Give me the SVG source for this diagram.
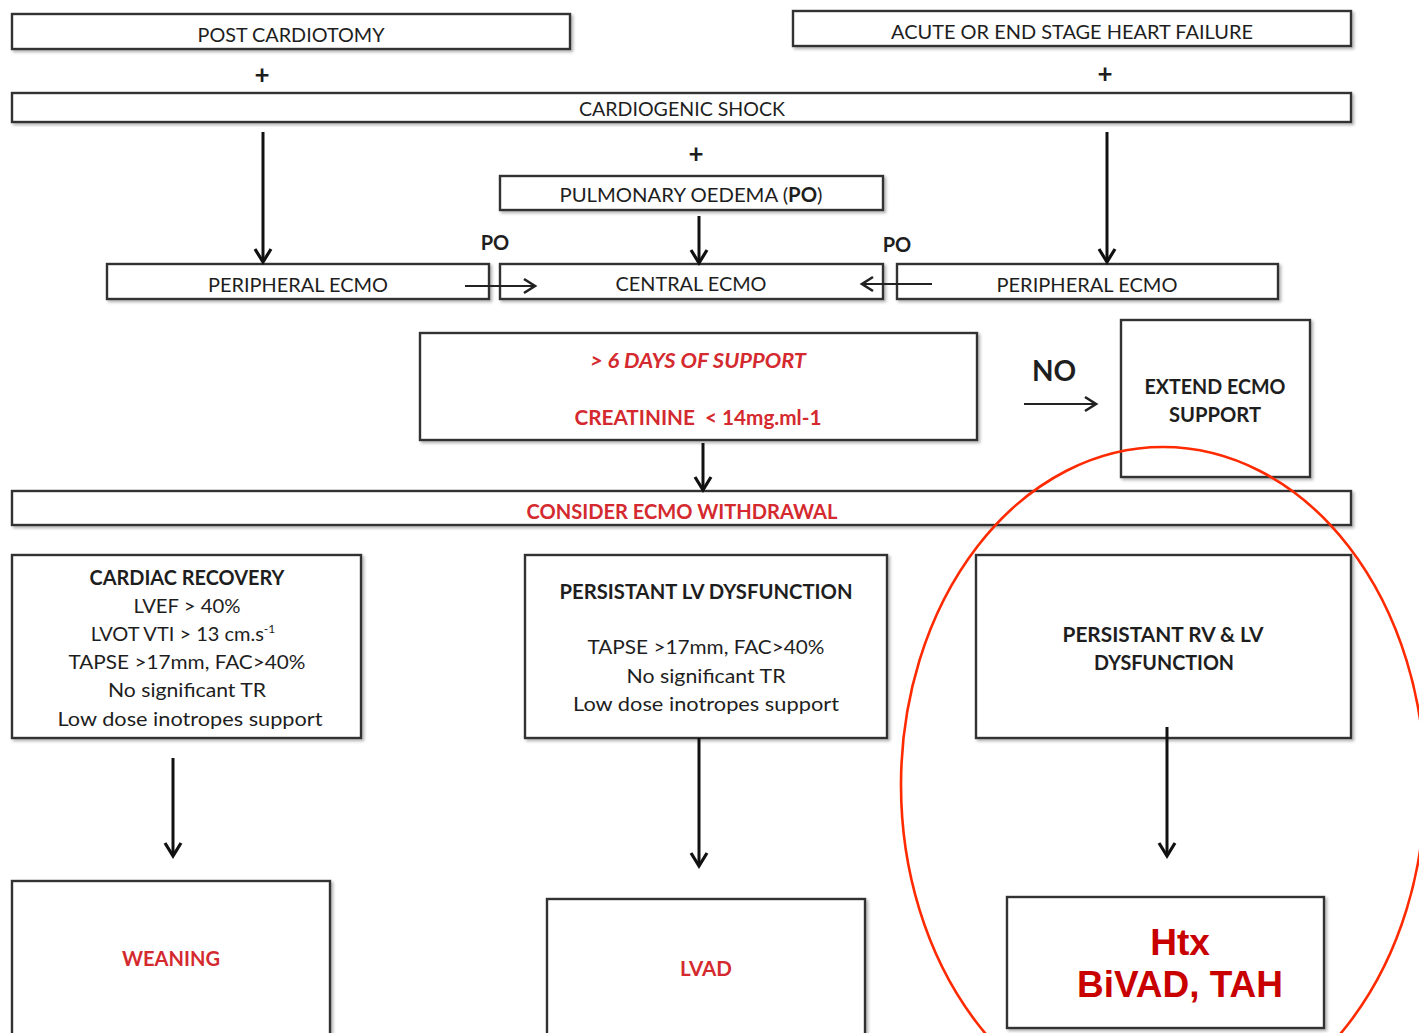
<svg xmlns="http://www.w3.org/2000/svg" width="1419" height="1033" viewBox="0 0 1419 1033">
  <defs>
    <filter id="shadow" x="-5%" y="-5%" width="110%" height="120%">
      <feDropShadow dx="2" dy="2" stdDeviation="1.5" flood-color="#000" flood-opacity="0.3"/>
    </filter>
    <marker id="chev" markerUnits="userSpaceOnUse" markerWidth="22" markerHeight="22" viewBox="0 0 22 22" refX="17" refY="11" orient="auto">
      <path d="M4,3 L17,11 L4,19" fill="none" stroke="#111" stroke-width="3.2" stroke-linejoin="miter"/>
    </marker>
    <marker id="chevThin" markerUnits="userSpaceOnUse" markerWidth="20" markerHeight="20" viewBox="0 0 20 20" refX="15" refY="10" orient="auto">
      <path d="M4,3 L15,10 L4,17" fill="none" stroke="#222" stroke-width="2.6"/>
    </marker>
  </defs>
  <style>
    .box { fill: #fff; stroke: #333; stroke-width: 2.4; filter: url(#shadow); }
    .t { font-family: Lato, "Open Sans", "Liberation Sans", sans-serif; font-size: 20px; fill: #1e1e1e; text-anchor: middle; }
    .b { font-weight: bold; }
    .red { fill: #d42a2f; }
    .big { font-family: "Liberation Sans", Arial, sans-serif; font-size: 37px; font-weight: bold; fill: #c80000; text-anchor: middle; }
    .edge { fill: none; stroke: #111; stroke-width: 3; marker-end: url(#chev); }
    .edge-thin { fill: none; stroke: #222; stroke-width: 2.2; marker-end: url(#chevThin); }
  </style>

  <rect width="1419" height="1033" fill="#fff"/>

  <!-- origins -->
  <g id="post-cardiotomy">
    <rect class="box" x="12" y="14" width="558" height="35"/>
    <text class="t" x="291" y="42" textLength="187" lengthAdjust="spacingAndGlyphs">POST CARDIOTOMY</text>
  </g>
  <g id="heart-failure">
    <rect class="box" x="793" y="11" width="558" height="35"/>
    <text class="t" x="1072" y="39" textLength="362" lengthAdjust="spacingAndGlyphs">ACUTE OR END STAGE HEART FAILURE</text>
  </g>
  <g id="plus-signs">
    <text class="t b" x="262" y="84" style="font-size:26px">+</text>
    <text class="t b" x="1105" y="83" style="font-size:26px">+</text>
    <text class="t b" x="696" y="163" style="font-size:26px">+</text>
  </g>
  <g id="cardiogenic-shock">
    <rect class="box" x="12" y="93" width="1339" height="29"/>
    <text class="t" x="682" y="116" textLength="206" lengthAdjust="spacingAndGlyphs">CARDIOGENIC SHOCK</text>
  </g>
  <g id="pulmonary-oedema">
    <rect class="box" x="500" y="176" width="383" height="34"/>
    <text class="t" x="691" y="202" textLength="263" lengthAdjust="spacingAndGlyphs">PULMONARY OEDEMA (<tspan class="b">PO</tspan>)</text>
  </g>

  <!-- ECMO modes -->
  <g id="peripheral-ecmo-left">
    <rect class="box" x="107" y="264" width="382" height="35"/>
    <text class="t" x="298" y="292" textLength="180" lengthAdjust="spacingAndGlyphs">PERIPHERAL ECMO</text>
  </g>
  <g id="central-ecmo">
    <rect class="box" x="500" y="264" width="383" height="35"/>
    <text class="t" x="691" y="291" textLength="151" lengthAdjust="spacingAndGlyphs">CENTRAL ECMO</text>
  </g>
  <g id="peripheral-ecmo-right">
    <rect class="box" x="897" y="264" width="381" height="35"/>
    <text class="t" x="1087" y="292" textLength="181" lengthAdjust="spacingAndGlyphs">PERIPHERAL ECMO</text>
  </g>
  <g id="po-labels">
    <text class="t b" x="495" y="250">PO</text>
    <text class="t b" x="897" y="252">PO</text>
  </g>

  <!-- criteria -->
  <g id="criteria">
    <rect class="box" x="420" y="333" width="557" height="107"/>
    <text class="t b red" x="698" y="368" font-style="italic" textLength="216" lengthAdjust="spacingAndGlyphs">&gt; 6 DAYS OF SUPPORT</text>
    <text class="t b red" x="698" y="425" textLength="247" lengthAdjust="spacingAndGlyphs" xml:space="preserve">CREATININE  &lt; 14mg.ml-1</text>
  </g>
  <g id="no-label">
    <text class="t b" x="1054" y="381" style="font-size:28px">NO</text>
  </g>
  <g id="extend-ecmo">
    <rect class="box" x="1121" y="320" width="189" height="157"/>
    <text class="t b" x="1215" y="394" textLength="141" lengthAdjust="spacingAndGlyphs">EXTEND ECMO</text>
    <text class="t b" x="1215" y="422" textLength="92" lengthAdjust="spacingAndGlyphs">SUPPORT</text>
  </g>
  <g id="consider-withdrawal">
    <rect class="box" x="12" y="491" width="1339" height="34"/>
    <text class="t b red" x="682" y="519" textLength="311" lengthAdjust="spacingAndGlyphs">CONSIDER ECMO WITHDRAWAL</text>
  </g>

  <!-- outcomes -->
  <g id="cardiac-recovery">
    <rect class="box" x="12" y="555" width="349" height="183"/>
    <text class="t b" x="187" y="585" textLength="195" lengthAdjust="spacingAndGlyphs">CARDIAC RECOVERY</text>
    <text class="t" x="187" y="613" textLength="107" lengthAdjust="spacingAndGlyphs">LVEF &gt; 40%</text>
    <text class="t" x="183" y="641">LVOT VTI &gt; 13 cm.s<tspan dy="-8" style="font-size:12px">-1</tspan></text>
    <text class="t" x="187" y="669" textLength="237" lengthAdjust="spacingAndGlyphs">TAPSE &gt;17mm, FAC&gt;40%</text>
    <text class="t" x="187" y="697" textLength="158" lengthAdjust="spacingAndGlyphs">No significant TR</text>
    <text class="t" x="190" y="726" textLength="265" lengthAdjust="spacingAndGlyphs">Low dose inotropes support</text>
  </g>
  <g id="persistant-lv">
    <rect class="box" x="525" y="555" width="362" height="183"/>
    <text class="t b" x="706" y="599" textLength="293" lengthAdjust="spacingAndGlyphs">PERSISTANT LV DYSFUNCTION</text>
    <text class="t" x="706" y="654" textLength="237" lengthAdjust="spacingAndGlyphs">TAPSE &gt;17mm, FAC&gt;40%</text>
    <text class="t" x="706" y="683" textLength="159" lengthAdjust="spacingAndGlyphs">No significant TR</text>
    <text class="t" x="706" y="711" textLength="266" lengthAdjust="spacingAndGlyphs">Low dose inotropes support</text>
  </g>
  <g id="persistant-rv-lv">
    <rect class="box" x="976" y="555" width="375" height="183"/>
    <text class="t b" x="1163" y="642" textLength="201" lengthAdjust="spacingAndGlyphs">PERSISTANT RV &amp; LV</text>
    <text class="t b" x="1164" y="670" textLength="140" lengthAdjust="spacingAndGlyphs">DYSFUNCTION</text>
  </g>

  <!-- therapies -->
  <g id="weaning">
    <rect class="box" x="12" y="881" width="318" height="160"/>
    <text class="t b red" x="171" y="966" textLength="98" lengthAdjust="spacingAndGlyphs">WEANING</text>
  </g>
  <g id="lvad">
    <rect class="box" x="547" y="899" width="318" height="140"/>
    <text class="t b red" x="706" y="976" textLength="52" lengthAdjust="spacingAndGlyphs">LVAD</text>
  </g>
  <g id="htx">
    <rect class="box" x="1007" y="897" width="317" height="131"/>
    <text class="big" x="1180" y="955">Htx</text>
    <text class="big" x="1180" y="997" textLength="206" lengthAdjust="spacingAndGlyphs">BiVAD, TAH</text>
  </g>

  <!-- connectors -->
  <g id="connectors">
    <line class="edge" x1="263" y1="132" x2="263" y2="262"/>
    <line class="edge" x1="1107" y1="132" x2="1107" y2="262"/>
    <line class="edge" x1="699" y1="216" x2="699" y2="263"/>
    <line class="edge-thin" x1="465" y1="286" x2="535" y2="286"/>
    <line class="edge-thin" x1="932" y1="284" x2="862" y2="284"/>
    <line class="edge-thin" x1="1024" y1="404" x2="1096" y2="404"/>
    <line class="edge" x1="703" y1="443" x2="703" y2="490"/>
    <line class="edge" x1="173" y1="758" x2="173" y2="856"/>
    <line class="edge" x1="699" y1="738" x2="699" y2="866"/>
    <line class="edge" x1="1167" y1="727" x2="1167" y2="856"/>
  </g>

  <!-- highlight ring around the transplant / assist-device branch -->
  <ellipse id="highlight" cx="1163" cy="785" rx="262" ry="338" fill="none" stroke="#ff2a00" stroke-width="2.6"/>
</svg>
